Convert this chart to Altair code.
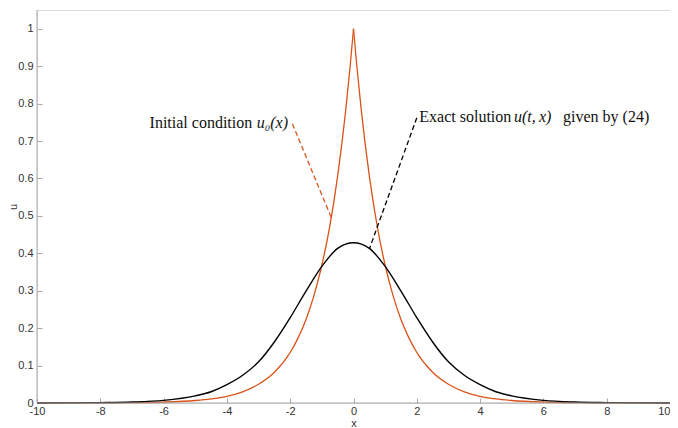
import altair as alt
import pandas as pd

# Initial condition u0(x) (orange)
x_init = [-10, -9, -8, -7, -6, -5, -4.5, -4, -3.5, -3, -2.5, -2, -1.75, -1.5, -1.25, -1,
          -0.75, -0.5, -0.25, -0.1, 0, 0.1, 0.25, 0.5, 0.75, 1, 1.25, 1.5, 1.75, 2,
          2.5, 3, 3.5, 4, 4.5, 5, 6, 7, 8, 9, 10]
u_init = [0.0001, 0.0001, 0.0003, 0.0009, 0.0025, 0.0067, 0.011, 0.018, 0.030, 0.050,
          0.082, 0.135, 0.174, 0.223, 0.287, 0.368, 0.472, 0.607, 0.779, 0.905, 1.0,
          0.905, 0.779, 0.607, 0.472, 0.368, 0.287, 0.223, 0.174, 0.135, 0.082, 0.050,
          0.030, 0.018, 0.011, 0.0067, 0.0025, 0.0009, 0.0003, 0.0001, 0.0001]

# Exact solution u(t,x) (black)
x_exact = [-10, -9, -8, -7, -6, -5, -4.5, -4, -3.5, -3, -2.5, -2, -1.5, -1, -0.5, 0,
           0.5, 1, 1.5, 2, 2.5, 3, 3.5, 4, 4.5, 5, 6, 7, 8, 9, 10]
u_exact = [0.0001, 0.0003, 0.001, 0.0025, 0.007, 0.019, 0.030, 0.049, 0.074, 0.110,
           0.163, 0.228, 0.299, 0.365, 0.413, 0.428, 0.413, 0.365, 0.299, 0.228, 0.163,
           0.110, 0.074, 0.049, 0.030, 0.019, 0.007, 0.0025, 0.001, 0.0003, 0.0001]

x_ticks = [-10, -8, -6, -4, -2, 0, 2, 4, 6, 8, 10]
y_ticks = [0, 0.1, 0.2, 0.3, 0.4, 0.5, 0.6, 0.7, 0.8, 0.9, 1]

# axis extents
x_range = [-10, 10]
y_range = [0, 1.05]

# Annotation texts and their anchors (data coordinates)
ann_text = ["Initial condition", "u\u2080(x)", "Exact solution", "u(t,\u2009x)", "given by (24)"]
ann_x = [-3.2, -3.06, 2.08, 5.07, 6.62]
ann_y = [0.747, 0.747, 0.763, 0.763, 0.763]
ann_align = ["right", "left", "left", "left", "left"]
ann_style = ["normal", "italic", "normal", "italic", "normal"]

# Leader lines (start -> end on curve)
lead_x = [-1.93, 2.0]
lead_y = [0.746, 0.762]
lead_x2 = [-0.70, 0.505]
lead_y2 = [0.495, 0.4125]
lead_color = ["#D95319", "#000000"]

ORANGE = "#D95319"
GRAY = "#a8a8a8"
LABEL = "#333333"

df_i = pd.DataFrame({"x": x_init, "u": u_init})
# two monotone branches meeting at the cusp
df_init = pd.concat([df_i[df_i["x"] <= 0].assign(side="left"),
                     df_i[df_i["x"] >= 0].assign(side="right")], ignore_index=True)
df_exact = pd.DataFrame({"x": x_exact, "u": u_exact})
df_ann = pd.DataFrame({"text": ann_text, "x": ann_x, "y": ann_y,
                       "align": ann_align, "style": ann_style})
df_lead = pd.DataFrame({"x": lead_x, "y": lead_y, "x2": lead_x2, "y2": lead_y2,
                        "c": lead_color})
df_dom = pd.DataFrame({"x": [x_range[0], x_range[0]], "x2": [x_range[1], x_range[0]],
                       "y": [y_range[0], y_range[0]], "y2": [y_range[0], y_range[1]]})

xscale = alt.Scale(domain=x_range, nice=False, zero=False)
yscale = alt.Scale(domain=y_range, nice=False, zero=False)

xaxis = alt.Axis(values=x_ticks, labelExpr="'' + datum.value", domain=False, grid=False,
                 tickSize=5, offset=-5, tickColor=GRAY, labelColor=LABEL,
                 labelFontSize=11, labelFont="Liberation Sans", labelPadding=2,
                 labelOverlap=False, labelFlush=False, tickCount=11,
                 labelAlign={"condition": {"test": "datum.value == 10", "value": "right"},
                             "value": "center"},
                 title="x", titleFont="Liberation Sans", titleFontSize=11,
                 titleFontWeight="normal", titleColor=LABEL, titlePadding=1)
yaxis = alt.Axis(values=y_ticks, labelExpr="'' + datum.value", domain=False, grid=False,
                 tickSize=5, offset=-5, tickColor=GRAY, labelColor=LABEL,
                 labelFontSize=11, labelFont="Liberation Sans", labelPadding=4,
                 labelOverlap=False, labelFlush=False, tickCount=11,
                 title="u", titleFont="Liberation Sans", titleFontSize=11,
                 titleFontWeight="normal", titleColor=LABEL, titlePadding=-1)


def X(f):
    return alt.X(f, scale=xscale, axis=xaxis)


def Y(f):
    return alt.Y(f, scale=yscale, axis=yaxis)


init_line = alt.Chart(df_init).mark_line(color=ORANGE, strokeWidth=1.3,
                                         interpolate="monotone").encode(
    x=X("x:Q"), y=Y("u:Q"), detail="side:N")
exact_line = alt.Chart(df_exact).mark_line(color="black", strokeWidth=1.4,
                                            interpolate="monotone").encode(
    x=X("x:Q"), y=Y("u:Q"))

# axis base lines (left and bottom only)
dom = alt.Chart(df_dom).mark_rule(color=GRAY, strokeWidth=1).encode(
    x=X("x:Q"), x2="x2:Q", y=Y("y:Q"), y2="y2:Q")

leaders = alt.Chart(df_lead).mark_rule(strokeWidth=1.3, strokeDash=[5, 3]).encode(
    x=X("x:Q"), y=Y("y:Q"), x2="x2:Q", y2="y2:Q",
    color=alt.Color("c:N", scale=None),
)

text_layers = []
for al in ["right", "left"]:
    for st in ["normal", "italic"]:
        sub = df_ann[(df_ann["align"] == al) & (df_ann["style"] == st)]
        if len(sub) == 0:
            continue
        text_layers.append(
            alt.Chart(sub).mark_text(align=al, baseline="middle", font="Liberation Serif",
                                     fontSize=16, fontStyle=st, color="#111111").encode(
                x=X("x:Q"), y=Y("y:Q"), text="text:N")
        )

chart = alt.layer(init_line, exact_line, dom, leaders, *text_layers).properties(
    width=633, height=393,
    padding={"left": 29, "top": 2, "right": 0, "bottom": 26},
    autosize=alt.AutoSizeParams(type="none"),
).configure_view(stroke=None).configure(background="white")

chart.save("out.html", embed_options={"renderer": "svg", "actions": False})
